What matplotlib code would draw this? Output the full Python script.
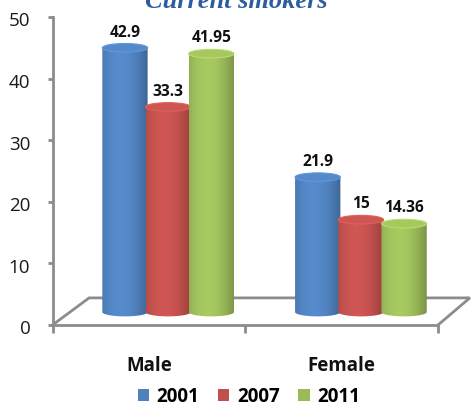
import numpy as np
import matplotlib
matplotlib.use("Agg")
import matplotlib.pyplot as plt
from matplotlib.patches import Ellipse, PathPatch
from matplotlib.path import Path
from matplotlib.colors import to_rgb
from matplotlib.transforms import ScaledTranslation

# ---- data ----
categories = ["Male", "Female"]
series_names = ["2001", "2007", "2011"]
values_2001 = [42.9, 21.9]
values_2007 = [33.3, 15]
values_2011 = [41.95, 14.36]
value_labels = [["42.9", "21.9"], ["33.3", "15"], ["41.95", "14.36"]]
y_ticks = [0, 10, 20, 30, 40, 50]

series_values = [values_2001, values_2007, values_2011]
colors = ["#4F81BD", "#C0504D", "#9BBB59"]

W, H = 471, 409
fig = plt.figure(figsize=(W / 100, H / 100), dpi=100)
ax_left, ax_right, ax_top, ax_bottom = 52.5, 438, 17, 325
ax = fig.add_axes([ax_left / W, 1 - ax_bottom / H,
                   (ax_right - ax_left) / W, (ax_bottom - ax_top) / H])
ax.set_facecolor("none")

gray = "#8C8C8C"
font = "Open Sans"

# 3-D look: floor depth and the depth at which the cylinders stand
floor_dx, floor_dy = 0.19, 4.4
bar_dx, bar_dy = 0.10, 2.1
bar_w = 0.235
bar_step = 0.224
ell_h = 1.4

# floor outline (front edge is the bottom spine)
ax.plot([0, floor_dx, 2 + floor_dx * 0.87, 2],
        [0, floor_dy, floor_dy, 0], color=gray, lw=2.0,
        clip_on=False, zorder=1, solid_joinstyle="miter")


def shade(rgb, n=64):
    t = np.linspace(0, 1, n)
    s = 1.08 - 0.30 * ((t - 0.40) / 0.60) ** 2
    img = np.clip(np.outer(s, rgb), 0, 1)
    return img[np.newaxis, :, :]


def cylinder(cx, val, color, z):
    rgb = np.array(to_rgb(color))
    x0, x1 = cx - bar_w / 2, cx + bar_w / 2
    base = bar_dy
    top = val + bar_dy
    th = np.linspace(0, -np.pi, 40)
    arc_x = cx + bar_w / 2 * np.cos(th)
    arc_y = base + ell_h / 2 * np.sin(th)
    verts = [(x0, top), (x1, top)] + list(zip(arc_x, arc_y)) + [(x0, top)]
    codes = [Path.MOVETO] + [Path.LINETO] * (len(verts) - 2) + [Path.CLOSEPOLY]
    body = PathPatch(Path(verts, codes), facecolor="none", edgecolor="none",
                     transform=ax.transData)
    ax.add_patch(body)
    im = ax.imshow(shade(rgb), extent=(x0, x1, base - ell_h, top),
                   aspect="auto", zorder=z, interpolation="bilinear")
    im.set_clip_path(body)
    top_face = np.clip(rgb * 1.07, 0, 1)
    rim = np.clip(rgb * 1.18, 0, 1)
    ax.add_patch(Ellipse((cx, top), bar_w, ell_h, facecolor=top_face,
                         edgecolor=rim, lw=0.8, zorder=z + 0.1))
    return top


for i, (vals, col) in enumerate(zip(series_values, colors)):
    for g, v in enumerate(vals):
        cx = g + 0.5 + bar_dx + (i - 1) * bar_step
        top = cylinder(cx, v, col, 3 + i)
        ax.annotate(value_labels[i][g], (cx, top), xytext=(0, 11.0),
                    textcoords="offset points", ha="center", va="center",
                    fontsize=11.2, fontweight="bold", family=font,
                    color="#111111", zorder=10, annotation_clip=False)

ax.set_xlim(0, 2)
ax.set_ylim(0, 50)

for side in ["top", "right"]:
    ax.spines[side].set_visible(False)
for side in ["left", "bottom"]:
    ax.spines[side].set_color(gray)
    ax.spines[side].set_linewidth(2.0)

ax.set_yticks(y_ticks)
ax.set_yticklabels([str(t) for t in y_ticks], fontsize=13.5, family=font,
                   color="#1A1A1A")
ax.tick_params(axis="y", length=3.5, width=2.0, color=gray, pad=12.5)
shift = ScaledTranslation(0, -2.5 / 100, fig.dpi_scale_trans)
for lbl in ax.get_yticklabels():
    lbl.set_transform(lbl.get_transform() + shift)

ax.set_xticks([0, 1, 2])
ax.set_xticklabels(["", "", ""])
ax.tick_params(axis="x", which="major", length=5.5, width=2.0, color=gray,
               direction="out")
ax.set_xticks([0.5, 1.5], minor=True)
ax.set_xticklabels(categories, minor=True, fontsize=13.5, fontweight="bold",
                   family=font, color="#111111")
ax.tick_params(axis="x", which="minor", length=0, pad=22)

handles = [plt.Rectangle((0, 0), 1, 1, facecolor=c, edgecolor="none")
           for c in colors]
leg = fig.legend(handles, series_names, loc="center",
                 bbox_to_anchor=(249 / W, 1 - 397 / H), ncol=3, frameon=False,
                 prop={"family": font, "weight": "bold", "size": 13.5},
                 handlelength=0.6, handleheight=0.6, handletextpad=0.4,
                 columnspacing=1.0, borderaxespad=0)

fig.text(236 / W, 1 - 8 / H, "Current smokers", ha="center", va="baseline",
         fontsize=19, fontweight="bold", style="italic",
         family="Liberation Serif", color="#2E5D9F")

fig.savefig("out.png", dpi=100)
